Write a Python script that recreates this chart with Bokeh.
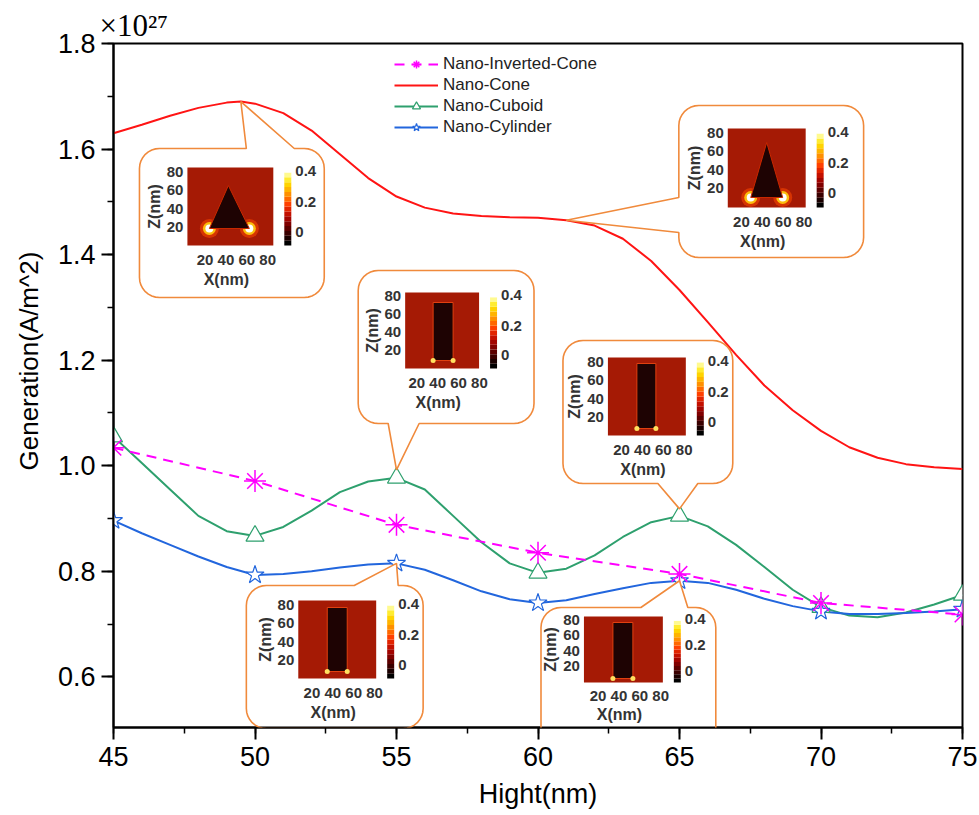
import math
from bokeh.plotting import figure
from bokeh.models import (Range1d, SingleIntervalTicker, Label, Legend, LegendItem,
                          PolyAnnotation, PrintfTickFormatter, Title)
from bokeh.embed import file_html
from bokeh.resources import INLINE

# ---------------- data ----------------
height = [45, 50, 55, 60, 65, 70, 75]
inv_cone = [1.034, 0.971, 0.888, 0.835, 0.795, 0.740, 0.718]
cuboid = [1.055, 0.867, 0.977, 0.797, 0.905, 0.732, 0.755]
cylinder = [0.896, 0.793, 0.815, 0.740, 0.782, 0.724, 0.728]

cone_h = [45, 46, 47, 48, 49, 49.5, 50, 51, 52, 53, 54, 55, 56, 57, 58, 59, 60,
          61, 62, 63, 64, 65, 66, 67, 68, 69, 70, 71, 72, 73, 74, 75]
cone = [1.630, 1.646, 1.663, 1.678, 1.688, 1.690, 1.686, 1.668, 1.635, 1.590,
        1.545, 1.510, 1.489, 1.478, 1.473, 1.471, 1.470, 1.465, 1.455, 1.430,
        1.388, 1.333, 1.272, 1.210, 1.152, 1.105, 1.066, 1.035, 1.015, 1.003,
        0.997, 0.994]

curve_h = [45, 46, 47, 48, 49, 50, 51, 52, 53, 54, 55, 56, 57, 58, 59, 60,
           61, 62, 63, 64, 65, 66, 67, 68, 69, 70, 71, 72, 73, 74, 75]
cuboid_curve = [1.055, 1.005, 0.955, 0.905, 0.876, 0.867, 0.884, 0.915, 0.950,
                0.970, 0.977, 0.955, 0.905, 0.855, 0.815, 0.797, 0.805, 0.830,
                0.865, 0.893, 0.905, 0.885, 0.850, 0.808, 0.765, 0.732, 0.716,
                0.713, 0.722, 0.737, 0.755]
cylinder_curve = [0.896, 0.872, 0.850, 0.828, 0.808, 0.793, 0.795, 0.800, 0.807,
                  0.813, 0.815, 0.803, 0.783, 0.762, 0.747, 0.740, 0.745, 0.757,
                  0.768, 0.778, 0.782, 0.778, 0.765, 0.748, 0.734, 0.724, 0.719,
                  0.719, 0.721, 0.724, 0.728]

series_names = ["Nano-Inverted-Cone", "Nano-Cone", "Nano-Cuboid", "Nano-Cylinder"]
inset_ticks_z = ["80", "60", "40", "20"]
inset_ticks_c = ["0.4", "0.2", "0"]
inset_ticks_x = "20 40 60 80"

# ---------------- layout ----------------
W, H = 979, 815
FL, FT, FW, FH = 112, 43, 850, 684
X0, X1 = 45, 75
Y0, Y1 = 0.504, 1.8
PL, PT = FL, FT   # frame origin in picture pixels


def dx(px):
    return X0 + (px - PL) / FW * (X1 - X0)


def dy(py):
    return Y1 - (py - PT) / FH * (Y1 - Y0)


def spx(x):
    return PL + (x - X0) / (X1 - X0) * FW


def spy(y):
    return PT + (Y1 - y) / (Y1 - Y0) * FH


p = figure(width=W, height=H, x_range=Range1d(X0, X1), y_range=Range1d(Y0, Y1),
           output_backend="svg", toolbar_location=None,
           min_border_left=FL, min_border_top=FT,
           min_border_right=W - FL - FW, min_border_bottom=H - FT - FH)
p.xgrid.visible = False
p.ygrid.visible = False
p.outline_line_color = "black"
p.outline_line_width = 2
p.background_fill_color = "white"
p.border_fill_color = "white"

p.xaxis.ticker = SingleIntervalTicker(interval=5, num_minor_ticks=2)
p.yaxis.ticker = SingleIntervalTicker(interval=0.2, num_minor_ticks=2)
p.yaxis.formatter = PrintfTickFormatter(format="%.1f")
for ax in (p.xaxis, p.yaxis):
    ax.axis_line_width = 2
    ax.axis_line_color = "black"
    ax.major_tick_line_width = 2
    ax.minor_tick_line_width = 1.5
    ax.major_tick_out = 12
    ax.major_tick_in = 0
    ax.minor_tick_out = 6
    ax.minor_tick_in = 0
    ax.major_label_text_font = "Liberation Sans"
    ax.major_label_text_font_size = "27px"
    ax.major_label_text_color = "black"
p.xaxis.major_label_standoff = 7
p.yaxis.major_label_standoff = 6
p.xaxis.axis_label = "Hight(nm)"
p.xaxis.axis_label_text_font = "Liberation Sans"
p.xaxis.axis_label_text_font_size = "27px"
p.xaxis.axis_label_text_font_style = "normal"
p.xaxis.axis_label_text_color = "black"
p.xaxis.axis_label_standoff = 10

p.add_layout(Title(text="Generation(A/m^2)", align="left", offset=257,
                   text_font="Liberation Sans", text_font_size="26px",
                   text_font_style="normal", text_color="black", standoff=22), "left")
p.add_layout(Title(text="\u00d710\u00b2\u2077", align="left", offset=-14,
                   text_font="Liberation Serif", text_font_size="31px",
                   text_font_style="normal", text_color="black", standoff=2), "above")

RED, GREEN, BLUE, MAG = "#ff1414", "#2ea06e", "#2266dd", "#ff00ff"

r_cone = p.line(cone_h, cone, line_color=RED, line_width=2)
r_cub = p.line(curve_h, cuboid_curve, line_color=GREEN, line_width=2)
r_cyl = p.line(curve_h, cylinder_curve, line_color=BLUE, line_width=2)
r_inv = p.line(height, inv_cone, line_color=MAG, line_width=2, line_dash="10 7")
m_cub = p.scatter(height, cuboid, marker="triangle", size=18, fill_color="white",
                  line_color=GREEN, line_width=1.2)
m_cyl = p.scatter(height, cylinder, marker="star", size=19, fill_color="white",
                  line_color=BLUE, line_width=1.2)
m_inv = p.scatter(height, inv_cone, marker="asterisk", size=22, line_color=MAG,
                  line_width=1.5)

legend = Legend(items=[
    LegendItem(label=series_names[0], renderers=[r_inv, m_inv]),
    LegendItem(label=series_names[1], renderers=[r_cone]),
    LegendItem(label=series_names[2], renderers=[r_cub, m_cub]),
    LegendItem(label=series_names[3], renderers=[r_cyl, m_cyl]),
], location=(279, 588), margin=0, padding=2, spacing=1,
    label_height=20, glyph_height=20, glyph_width=44, label_standoff=5,
    label_text_font="Liberation Sans", label_text_font_size="17px",
    label_text_color="#222222", background_fill_alpha=0, border_line_alpha=0)
p.add_layout(legend)

# ---------------- callout insets ----------------
HOT = ["#000000", "#1a0000", "#3a0000", "#5c0000", "#800000", "#a20400",
       "#c41000", "#e22400", "#ff4000", "#ff6800", "#ff9000", "#ffb400",
       "#ffd400", "#ffec30", "#fffa90", "#ffffff"]
ORANGE = "#f08a3c"
TXT = "#333333"

insets = [
    dict(box=(138, 148, 323, 297), edge="top", ab=(245, 293),
         anchor=(cone_h, cone, 49.5), off=0, hm=(186, 167, 86, 78),
         shape="tri", tri=(41, 18, 22, 62, 61)),
    dict(box=(678, 105, 863, 257), edge="left", ab=(197, 232),
         anchor=(cone_h, cone, 61), off=0, hm=(727, 128, 78, 79),
         shape="tri", tri=(39, 14, 23, 55, 69)),
    dict(box=(357, 270, 533, 423), edge="bottom", ab=(387, 418),
         anchor=(height, cuboid, 55), off=-8, hm=(404, 292, 74, 76),
         shape="rect", rect=(28, 10, 20, 58)),
    dict(box=(562, 340, 732, 483), edge="bottom", ab=(657, 697),
         anchor=(height, cuboid, 65), off=-7, hm=(607, 357, 78, 78),
         shape="rect", rect=(29, 6, 19, 65)),
    dict(box=(245, 585, 422, 728), edge="top", ab=(353, 397),
         anchor=(height, cylinder, 55), off=0, hm=(297, 600, 78, 78),
         shape="rect", rect=(29, 7, 20, 64)),
    dict(box=(540, 607, 715, 760), edge="top", ab=(640, 687),
         anchor=(height, cylinder, 65), off=0, hm=(583, 616, 79, 66),
         shape="rect", rect=(29, 6, 20, 56)),
]


def callout_path(L, T, R, B, r, edge, a, b, tip):
    pts = []

    def arc(cx, cy, a0, a1, n=8):
        for k in range(n + 1):
            t = math.radians(a0 + (a1 - a0) * k / n)
            pts.append((cx + r * math.cos(t), cy + r * math.sin(t)))

    arc(L + r, T + r, 180, 270)
    if edge == "top":
        pts.extend([(a, T), tip, (b, T)])
    arc(R - r, T + r, 270, 360)
    arc(R - r, B - r, 0, 90)
    if edge == "bottom":
        pts.extend([(b, B), tip, (a, B)])
    arc(L + r, B - r, 90, 180)
    if edge == "left":
        pts.extend([(L, b), tip, (L, a)])
    return pts


def add_label(px, py, text, size="15px", align="center", angle=0.0):
    p.add_layout(Label(x=dx(px), y=dy(py), text=text, text_font="Liberation Sans",
                       text_font_size=size, text_font_style="bold",
                       text_color=TXT, text_align=align, text_baseline="middle",
                       angle=angle))


for ins in insets:
    L, T, R, B = ins["box"]
    hx, hy, xv = ins["anchor"]
    yv = hy[hx.index(xv)]
    tip = (spx(xv), spy(yv) + ins["off"])
    pts = callout_path(L, T, R, B, 20, ins["edge"], ins["ab"][0], ins["ab"][1], tip)
    xs = [dx(q[0]) for q in pts]
    ys = [dy(q[1]) for q in pts]
    p.patch(xs, ys, fill_color="white", line_alpha=0)
    p.add_layout(PolyAnnotation(xs=xs, ys=ys, fill_alpha=0, line_color=ORANGE,
                                line_alpha=1.0, line_width=1.6))

    hl, ht, hw, hh = ins["hm"]
    hb = ht + hh
    p.quad(left=[dx(hl)], right=[dx(hl + hw)], top=[dy(ht)], bottom=[dy(hb)],
           fill_color="#a51a05", line_alpha=0)
    if ins["shape"] == "tri":
        ax_, ay_, bx0, bx1, by = ins["tri"]
        corners = [(hl + bx0, ht + by), (hl + bx1, ht + by)]
        cx = [dx(c[0]) for c in corners]
        cy = [dy(c[1]) for c in corners]
        p.scatter(cx, cy, size=19, fill_color="#ff4a00", fill_alpha=0.55, line_alpha=0)
        p.scatter(cx, cy, size=13, fill_color="#ffcc10", fill_alpha=0.9, line_alpha=0)
        p.scatter(cx, cy, size=8, fill_color="#ffffff", line_alpha=0)
        p.patch([dx(hl + ax_), dx(hl + bx0), dx(hl + bx1)],
                [dy(ht + ay_), dy(ht + by), dy(ht + by)],
                fill_color="#1e0303", line_color="#c82800", line_width=1)
    else:
        rx, ry, rw, rh = ins["rect"]
        p.quad(left=[dx(hl + rx)], right=[dx(hl + rx + rw)], top=[dy(ht + ry)],
               bottom=[dy(ht + ry + rh)], fill_color="#1e0303",
               line_color="#e04010", line_width=1)
        p.scatter([dx(hl + rx), dx(hl + rx + rw)], [dy(ht + ry + rh)] * 2, size=5,
                  fill_color="#ffe060", line_alpha=0)
    # colour bar
    cl = hl + hw + 11
    n = len(HOT)
    seg = hh / n
    p.quad(left=[dx(cl)] * n, right=[dx(cl + 7)] * n,
           top=[dy(hb - (k + 1) * seg) for k in range(n)],
           bottom=[dy(hb - k * seg) for k in range(n)],
           fill_color=HOT, line_alpha=0)
    sc = hh / 78.0
    for t, o in zip(inset_ticks_z, [4, 22, 41, 59]):
        add_label(hl - 4, ht + o * sc, t, align="right")
    for t, o in zip(inset_ticks_c, [3, 34, 64]):
        add_label(cl + 11, ht + o * sc, t, align="left")
    add_label(hl - 33, ht + hh * 0.5, "Z(nm)", size="16px", angle=math.pi / 2)
    gap = min(1.0, sc + 0.1)
    add_label(hl + hw / 2 + 6, hb + 14 * gap, inset_ticks_x)
    add_label(hl + hw / 2 - 4, hb + 34 * gap, "X(nm)", size="16px")

open("out.html", "w").write(file_html(p, INLINE))
